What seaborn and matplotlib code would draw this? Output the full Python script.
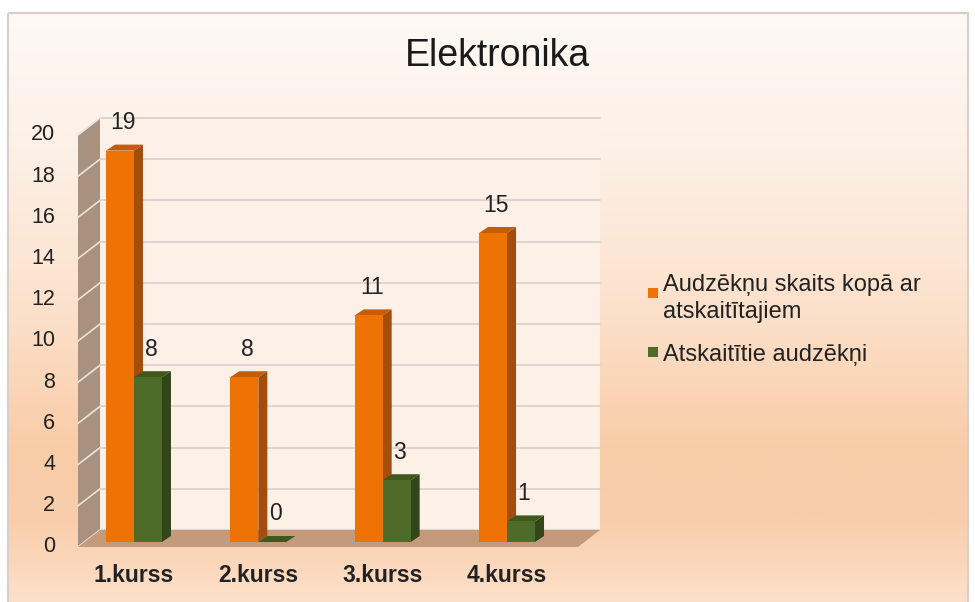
import matplotlib
matplotlib.use("Agg")
import matplotlib.pyplot as plt
import matplotlib.transforms as mtransforms
from matplotlib.patches import Polygon, Rectangle
from matplotlib.lines import Line2D
from matplotlib.colors import LinearSegmentedColormap
import numpy as np
import pandas as pd
import seaborn as sns

# ---- data ----
courses = ["1.kurss", "2.kurss", "3.kurss", "4.kurss"]
series_names = ["Audzēkņu skaits kopā ar atskaitītajiem", "Atskaitītie audzēkņi"]
legend_labels = ["Audzēkņu skaits kopā ar\natskaitītajiem", "Atskaitītie audzēkņi"]
total_students = [19, 8, 11, 15]
dropped_students = [8, 0, 3, 1]
y_ticks = [0, 2, 4, 6, 8, 10, 12, 14, 16, 18, 20]
chart_title = "Elektronika"

front_colors = ["#ee7204", "#4f6b29"]
side_colors = ["#a34e0c", "#33461a"]
top_colors = ["#c45c08", "#3e581e"]

df = pd.DataFrame({
    "kurss": courses * 2,
    "series": [series_names[0]] * 4 + [series_names[1]] * 4,
    "count": total_students + dropped_students,
})

sns.set_theme(style="white")
plt.rcParams["font.family"] = ["Liberation Sans", "DejaVu Sans"]

W, H = 975, 602
fig = plt.figure(figsize=(W / 100, H / 100), dpi=100)
fig.patch.set_facecolor("white")

# ---- background gradient of the chart area ----
bg = fig.add_axes([0, 0, 1, 1], zorder=-10)
bg.set_xlim(0, W)
bg.set_ylim(H, 0)
bg.axis("off")
grad = LinearSegmentedColormap.from_list("bg", [
    (0.0, "#fef9f5"), (0.23, "#fdf0e6"), (0.49, "#fce2cd"),
    (0.74, "#f9cca8"), (0.86, "#f9cdab"), (1.0, "#fde0c9")])
bg.imshow(np.linspace(0, 1, 256).reshape(-1, 1), cmap=grad, aspect="auto",
          extent=(8, 968, 602, 13), interpolation="bicubic")
bg.add_patch(Rectangle((8, 13), 960, 595, fill=False, ec="#d9cfca", lw=1.5))

# ---- main axes (front plane of the bars) ----
ax = fig.add_axes([85 / W, (H - 542) / H, 500 / W, 412 / H])
ax.patch.set_alpha(0)
sns.barplot(data=df, x="kurss", y="count", hue="series", hue_order=series_names,
            palette=front_colors, width=0.45, saturation=1, legend=False,
            edgecolor="none", linewidth=0, ax=ax)
bars = list(ax.patches)
xmin, xmax = -0.394, 3.627
ax.set_xlim(xmin, xmax)
ax.set_ylim(0, 20)
sns.despine(ax=ax, left=True, bottom=True)
ax.set_xlabel("")
ax.set_ylabel("")
ax.set_yticks(y_ticks, labels=[])
ax.tick_params(axis="y", length=0)
ax.tick_params(axis="x", length=0, pad=16, labelsize=16.5, labelcolor="#222222")
for lbl in ax.get_xticklabels():
    lbl.set_fontweight("bold")

# depth offsets in pixels (display coords, y up)
FRONT = (-7, -5)
BACK = (15, 12)
BAR_D = (9, 6)
ident = mtransforms.IdentityTransform()


def disp(x, y, off=(0, 0)):
    X, Y = ax.transData.transform((x, y))
    return (X + off[0], Y + off[1])


def face(pts, color, z):
    ax.add_patch(Polygon(pts, closed=True, fc=color, ec="none", transform=ident,
                         clip_on=False, zorder=z))


# back wall with grid lines
face([disp(xmin, 0, BACK), disp(xmax, 0, BACK), disp(xmax, 20, BACK), disp(xmin, 20, BACK)],
     "#fdf0e6", 0.2)
# left wall
face([disp(xmin, 0, FRONT), disp(xmin, 20, FRONT), disp(xmin, 20, BACK), disp(xmin, 0, BACK)],
     "#a8917f", 0.3)
for t in y_ticks:
    a, b = disp(xmin, t, BACK), disp(xmax, t, BACK)
    ax.add_line(Line2D([a[0], b[0]], [a[1], b[1]], color="#d8d0cd", lw=1.2,
                       transform=ident, clip_on=False, zorder=0.25))
    c = disp(xmin, t, FRONT)
    ax.add_line(Line2D([c[0], a[0]], [c[1], a[1]], color="#eee3dc", lw=1.2,
                       transform=ident, clip_on=False, zorder=0.35))
    ax.text(0, t, str(t), transform=ax.get_yaxis_transform() + mtransforms.ScaledTranslation(
        -30 / 100, -5 / 100, fig.dpi_scale_trans), ha="right", va="center",
        fontsize=15.5, color="#222222")
# floor
face([disp(xmin, 0, FRONT), disp(xmax, 0, FRONT), disp(xmax, 0, BACK), disp(xmin, 0, BACK)],
     "#c49a7b", 0.4)

# 3D faces of the bars and value labels
n = len(courses)
for i, p in enumerate(bars):
    k = i // n
    x0, w, h = p.get_x(), p.get_width(), p.get_height()
    p.set_zorder(2)
    face([disp(x0, h), disp(x0 + w, h), disp(x0 + w, h, BAR_D), disp(x0, h, BAR_D)],
         top_colors[k], 1.5)
    face([disp(x0 + w, 0), disp(x0 + w, h), disp(x0 + w, h, BAR_D), disp(x0 + w, 0, BAR_D)],
         side_colors[k], 1.5)
    ax.annotate(f"{h:.0f}", xy=(x0 + w / 2, h), xytext=(3, 28), textcoords="offset pixels",
                ha="center", va="center", fontsize=16.5, color="#222222", zorder=3,
                annotation_clip=False)

# ---- title ----
fig.text(497 / W, 1 - 56 / H, chart_title, ha="center", va="center", fontsize=27,
         color="#1a1a1a")

# ---- legend ----
legend_rows = [293, 352]
for k, (lab, yy) in enumerate(zip(legend_labels, legend_rows)):
    fig.add_artist(Rectangle((648 / W, 1 - (yy + 5) / H), 10 / W, 10 / H,
                             transform=fig.transFigure, fc=front_colors[k], ec="none"))
    fig.text(663 / W, 1 - yy / H, lab, ha="left", va="center_baseline", fontsize=17,
             color="#222222", linespacing=1.3)

fig.savefig("out.png", dpi=100)
